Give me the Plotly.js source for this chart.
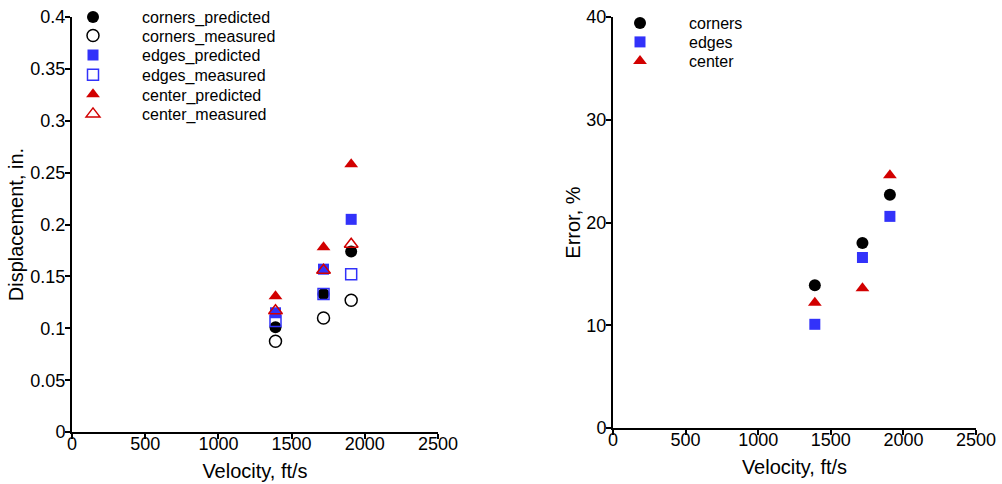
<!DOCTYPE html>
<html>
<head>
<meta charset="utf-8">
<script src="https://cdn.plot.ly/plotly-3.0.1.min.js"></script>
<style>
  html, body { margin: 0; padding: 0; background: #fff; }
  #chart { width: 1002px; height: 484px; }
</style>
</head>
<body>
<div id="chart"></div>
<script>
// Impact velocities (ft/s)
const velocity = [1390, 1718, 1907];

// Displacement (in.) at each location, predicted vs. measured
const cornersPredicted = [0.101, 0.133, 0.174];
const cornersMeasured  = [0.0875, 0.110, 0.127];
const edgesPredicted   = [0.115, 0.157, 0.205];
const edgesMeasured    = [0.107, 0.133, 0.152];
const centerPredicted  = [0.131, 0.178, 0.258];
const centerMeasured   = [0.117, 0.156, 0.181];

// Prediction error (%) at each location
const cornersError = [13.9, 18.0, 22.7];
const edgesError   = [10.1, 16.6, 20.6];
const centerError  = [12.2, 13.6, 24.6];

const BLACK = '#000000';
const BLUE = '#3232fa';
const RED = '#d20000';
const FONT = 'Liberation Sans, Arial, sans-serif';
const W = 1002, H = 484;

// Each key entry gets its own legend box so rows can sit on a fixed pitch.
const legendBoxes = {};
let legendCount = 0;
function legendAt(px, py) {
  legendCount += 1;
  const id = legendCount === 1 ? 'legend' : 'legend' + legendCount;
  legendBoxes[id] = {
    x: px / W, y: 1 - py / H, xanchor: 'left', yanchor: 'middle',
    bgcolor: 'rgba(0,0,0,0)', borderwidth: 0,
    itemwidth: 88,
    font: { family: FONT, size: 16, color: '#000' }
  };
  return id;
}

function series(name, x, y, symbol, color, open, axisSuffix, legend) {
  const square = symbol.indexOf('square') === 0;
  return {
    type: 'scatter', mode: 'markers', name: name,
    x: x, y: y,
    xaxis: 'x' + axisSuffix, yaxis: 'y' + axisSuffix,
    legend: legend,
    marker: {
      symbol: symbol,
      size: square ? 11 : 12,
      color: color,
      line: { color: color, width: open ? 1.5 : 0 }
    },
    hoverinfo: 'x+y+name'
  };
}

const L1X = 44, L2X = 591;
const traces = [
  series('corners_predicted', velocity, cornersPredicted, 'circle', BLACK, false, '', legendAt(L1X, 16)),
  series('corners_measured', velocity, cornersMeasured, 'circle-open', BLACK, true, '', legendAt(L1X, 35.6)),
  series('edges_predicted', velocity, edgesPredicted, 'square', BLUE, false, '', legendAt(L1X, 55.2)),
  series('edges_measured', velocity, edgesMeasured, 'square-open', BLUE, true, '', legendAt(L1X, 74.8)),
  series('center_predicted', velocity, centerPredicted, 'triangle-up', RED, false, '', legendAt(L1X, 94.4)),
  series('center_measured', velocity, centerMeasured, 'triangle-up-open', RED, true, '', legendAt(L1X, 114)),
  series('corners', velocity, cornersError, 'circle', BLACK, false, '2', legendAt(L2X, 23)),
  series('edges', velocity, edgesError, 'square', BLUE, false, '2', legendAt(L2X, 42)),
  series('center', velocity, centerError, 'triangle-up', RED, false, '2', legendAt(L2X, 61))
];

const axisCommon = {
  showgrid: false, zeroline: false,
  showline: true, linecolor: '#000', linewidth: 2,
  ticks: 'outside', ticklen: 5, tickwidth: 2, tickcolor: '#000',
  tickfont: { family: FONT, size: 18, color: '#000' },
  fixedrange: true
};
const titleFont = { family: FONT, size: 20, color: '#000' };

const layout = Object.assign({
  width: W, height: H,
  margin: { l: 0, r: 0, t: 0, b: 0 },
  paper_bgcolor: '#fff', plot_bgcolor: '#fff',
  font: { family: FONT, color: '#000' },
  showlegend: true,
  xaxis: Object.assign({}, axisCommon, {
    domain: [72 / W, 438 / W], range: [0, 2500], dtick: 500, anchor: 'y',
    ticklabelstandoff: -11,
    title: { text: 'Velocity, ft/s', font: titleFont, standoff: 11 }
  }),
  yaxis: Object.assign({}, axisCommon, {
    domain: [1 - 432 / H, 1 - 16 / H], range: [0, 0.4], dtick: 0.05, anchor: 'x',
    ticklabelstandoff: -4,
    title: { text: 'Displacement, in.', font: titleFont, standoff: 1 }
  }),
  xaxis2: Object.assign({}, axisCommon, {
    domain: [613 / W, 976 / W], range: [0, 2500], dtick: 500, anchor: 'y2',
    ticklabelstandoff: -11,
    title: { text: 'Velocity, ft/s', font: titleFont, standoff: 11 }
  }),
  yaxis2: Object.assign({}, axisCommon, {
    domain: [1 - 428 / H, 1 - 16 / H], range: [0, 40], dtick: 10, anchor: 'x2',
    ticklabelstandoff: -4,
    title: { text: 'Error, %', font: titleFont, standoff: 0 }
  })
}, legendBoxes);

Plotly.newPlot('chart', traces, layout, { displayModeBar: false, staticPlot: true });
</script>
</body>
</html>
